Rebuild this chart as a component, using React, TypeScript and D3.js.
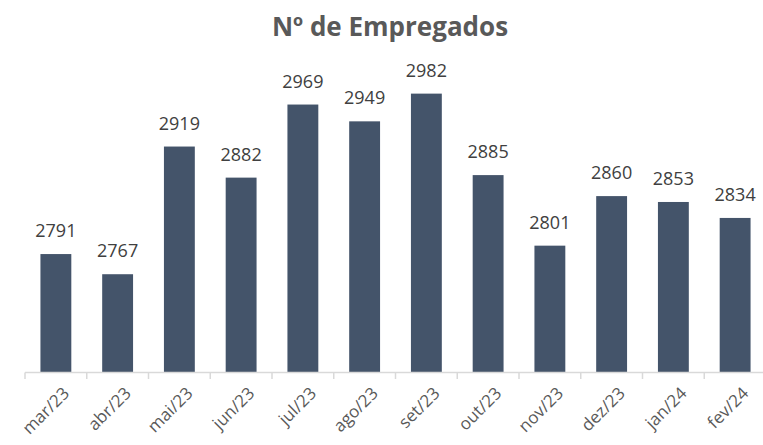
import React from "react";
import * as d3 from "d3";

const categories = ["mar/23","abr/23","mai/23","jun/23","jul/23","ago/23","set/23","out/23","nov/23","dez/23","jan/24","fev/24"];
const values = [2791,2767,2919,2882,2969,2949,2982,2885,2801,2860,2853,2834];
const title = "Nº de Empregados";

export default function App() {
  const W = 763, H = 445;
  const x = d3.scaleBand<string>().domain(categories).range([25, 766]).paddingInner(0.5).paddingOuter(0.25);
  const step = x.step();
  const y = d3.scaleLinear().domain([2650, 3050]).range([372.5, 36.5]);
  const font = "'Open Sans', sans-serif";
  return (
    <svg width={W} height={H} style={{ position: "absolute", left: 0, top: 0, background: "#fff" }}>
      <text x={390} y={36} textAnchor="middle" fontFamily={font} fontWeight="bold" fontSize={26} fill="#595959">{title}</text>
      {categories.map((c, i) => (
        <g key={c}>
          <rect x={x(c)} y={y(values[i])} width={x.bandwidth()} height={y(2650) - y(values[i])} fill="#44546a" />
          <text x={x(c)! + x.bandwidth() / 2} y={y(values[i]) - 17} textAnchor="middle" fontFamily={font} fontSize={18} fill="#404040">{values[i]}</text>
        </g>
      ))}
      <line x1={25} x2={766} y1={372.5} y2={372.5} stroke="#d9d9d9" strokeWidth={1.5} />
      {d3.range(categories.length + 1).map((i) => (
        <line key={i} x1={25 + i * step} x2={25 + i * step} y1={372.5} y2={379} stroke="#d9d9d9" strokeWidth={1.5} />
      ))}
      {categories.map((c) => {
        const cx = x(c)! + x.bandwidth() / 2 + 6;
        const cy = 386;
        return (
          <text key={c} transform={`translate(${cx},${cy}) rotate(-45)`} textAnchor="end" dy="0.7em" fontFamily={font} fontSize={17} fill="#595959">{c}</text>
        );
      })}
    </svg>
  );
}
